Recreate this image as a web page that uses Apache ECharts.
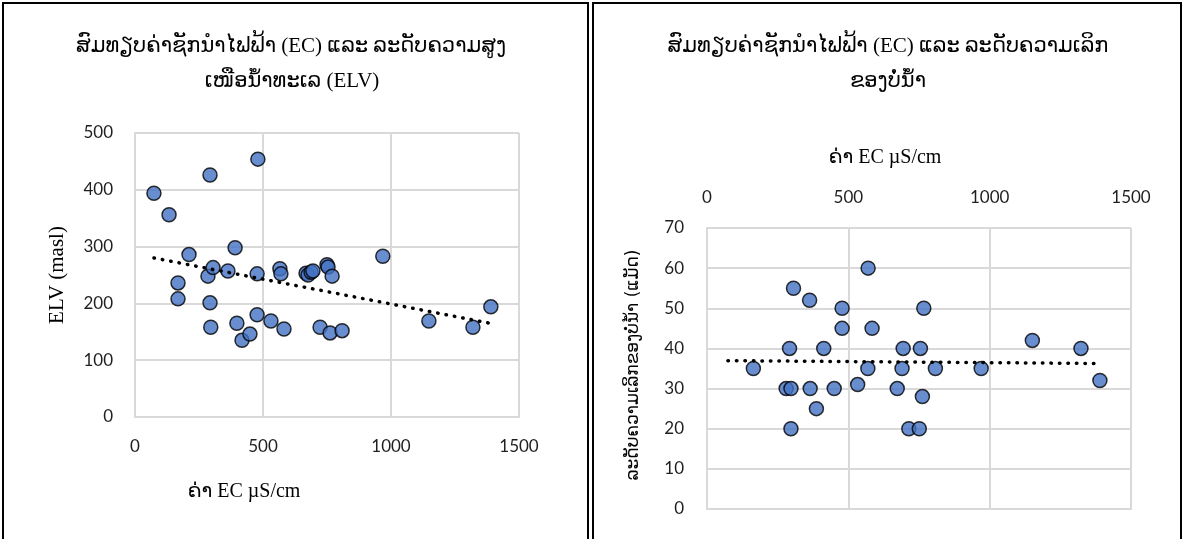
<!DOCTYPE html>
<html>
<head>
<meta charset="utf-8">
<script src="https://cdn.jsdelivr.net/npm/echarts@6/dist/echarts.min.js"></script>
<style>
  html, body { margin: 0; padding: 0; background: #fff; }
  #chart { width: 1184px; height: 539px; }
</style>
</head>
<body>
<div id="chart"></div>
<script>
// Well data: electrical conductivity (µS/cm) against elevation above sea level (m)
const elvPoints = [
  [74, 394], [133, 356], [168, 236], [168, 208], [211, 286], [285, 248],
  [293, 426], [293, 201], [296, 158], [305, 263], [363, 257], [391, 298],
  [398, 165], [418, 135], [449, 146], [477, 252], [477, 180], [480, 454],
  [531, 169], [566, 261], [570, 252], [582, 155], [668, 253], [676, 250],
  [688, 255], [695, 257], [723, 158], [750, 268], [754, 264], [762, 148],
  [770, 248], [809, 152], [968, 283], [1148, 169], [1320, 158], [1390, 194]
];

// Well data: electrical conductivity (µS/cm) against well depth (m)
const depthPoints = [
  [164, 35], [306, 55], [363, 52], [478, 50], [478, 45], [570, 60],
  [584, 45], [292, 40], [413, 40], [694, 40], [755, 40], [767, 50],
  [569, 35], [690, 35], [808, 35], [280, 30], [297, 30], [365, 30],
  [450, 30], [533, 31], [673, 30], [762, 28], [387, 25], [297, 20],
  [714, 20], [751, 20], [970, 35], [1151, 42], [1323, 40], [1390, 32]
];

// Axis tick values
const ecTicks = [0, 500, 1000, 1500];
const elvTicks = [0, 100, 200, 300, 400, 500];
const depthTicks = [0, 10, 20, 30, 40, 50, 60, 70];

// Text
const titleElv = ['ສົມທຽບຄ່າຊັກນຳໄຟຟ້າ (EC) ແລະ ລະດັບຄວາມສູງ', 'ເໜືອນ້ຳທະເລ (ELV)'];
const titleDepth = ['ສົມທຽບຄ່າຊັກນຳໄຟຟ້າ (EC) ແລະ ລະດັບຄວາມເລິກ', 'ຂອງບໍ່ນ້ຳ'];
const ecName = 'ຄ່າ EC µS/cm';
const elvName = 'ELV (masl)';
const depthName = 'ລະດັບຄວາມເລິກຂອງບໍ່ນ້ຳ (ແມັດ)';

// Least-squares linear trend, drawn across the sampled EC range
function linearTrend(points, xRange) {
  const n = points.length;
  let sx = 0, sy = 0, sxx = 0, sxy = 0;
  points.forEach(([x, y]) => { sx += x; sy += y; sxx += x * x; sxy += x * y; });
  const slope = (n * sxy - sx * sy) / (n * sxx - sx * sx);
  const icpt = (sy - slope * sx) / n;
  return xRange.map(x => [x, icpt + slope * x]);
}
const ecAll = elvPoints.map(p => p[0]);
const ecRange = [Math.min(...ecAll), Math.max(...ecAll)];

const serifFont = "'Liberation Serif', 'DejaVu Sans', serif";
const tickFont = "Lato, 'Liberation Sans', sans-serif";
const laoSans = "'DejaVu Sans', sans-serif";
const gridColor = '#d9d9d9';
const labelColor = '#1f1f1f';

function tickLabels(margin) {
  return { color: labelColor, fontFamily: tickFont, fontSize: 17, margin: margin,
    formatter: v => String(v) };
}

function valueAxis(ticks, extra) {
  return Object.assign({
    type: 'value',
    min: ticks[0],
    max: ticks[ticks.length - 1],
    interval: ticks[1] - ticks[0],
    axisLine: { show: true, lineStyle: { color: gridColor, width: 2 } },
    axisTick: { show: false },
    splitLine: { show: true, lineStyle: { color: gridColor, width: 2 } }
  }, extra);
}

const markerStyle = { color: '#4472C4', borderColor: '#000', borderWidth: 1.5 };
const trendStyle = { color: '#000', width: 3.5, type: [0.5, 8], cap: 'round' };

const chart = echarts.init(document.getElementById('chart'), null, { renderer: 'canvas' });

function label(x, y, text, font, rotation) {
  return { type: 'text', x: x, y: y, rotation: rotation || 0, silent: true,
    style: { text: text, font: font, fill: '#000', align: 'center', verticalAlign: 'middle' } };
}

chart.setOption({
  backgroundColor: '#fff',
  animation: false,
  grid: [
    { left: 135, right: 665, top: 133, bottom: 122 },
    { left: 707, right: 53, top: 228, bottom: 30 }
  ],
  xAxis: [
    valueAxis(ecTicks, { gridIndex: 0, position: 'bottom', axisLabel: tickLabels(21) }),
    valueAxis(ecTicks, { gridIndex: 1, position: 'top', axisLabel: tickLabels(22) })
  ],
  yAxis: [
    valueAxis(elvTicks, { gridIndex: 0, axisLabel: tickLabels(22) }),
    valueAxis(depthTicks, { gridIndex: 1, axisLabel: tickLabels(23) })
  ],
  series: [
    { type: 'scatter', xAxisIndex: 0, yAxisIndex: 0, data: elvPoints,
      symbol: 'circle', symbolSize: 14, itemStyle: markerStyle, z: 2 },
    { type: 'line', xAxisIndex: 0, yAxisIndex: 0, data: linearTrend(elvPoints, ecRange),
      showSymbol: false, lineStyle: trendStyle, z: 3, silent: true },
    { type: 'scatter', xAxisIndex: 1, yAxisIndex: 1, data: depthPoints,
      symbol: 'circle', symbolSize: 14, itemStyle: markerStyle, z: 2 },
    { type: 'line', xAxisIndex: 1, yAxisIndex: 1, data: linearTrend(depthPoints, ecRange),
      showSymbol: false, lineStyle: trendStyle, z: 3, silent: true }
  ],
  graphic: [
    // panel frames
    { type: 'rect', shape: { x: 3, y: 3, width: 585, height: 560 },
      style: { fill: null, stroke: '#000', lineWidth: 2 }, silent: true },
    { type: 'rect', shape: { x: 593, y: 3, width: 588, height: 560 },
      style: { fill: null, stroke: '#000', lineWidth: 2 }, silent: true },
    // titles
    label(291, 46, titleElv[0], '21px ' + serifFont),
    label(292, 81, titleElv[1], '21px ' + serifFont),
    label(888, 46, titleDepth[0], '21px ' + serifFont),
    label(888, 81, titleDepth[1], '21px ' + serifFont),
    // axis names
    label(244, 492, ecName, '20px ' + serifFont),
    label(57, 275, elvName, '21px ' + serifFont, Math.PI / 2),
    label(885, 158, ecName, '20px ' + serifFont),
    label(634, 365, depthName, '17px ' + laoSans, Math.PI / 2)
  ]
});
</script>
</body>
</html>
